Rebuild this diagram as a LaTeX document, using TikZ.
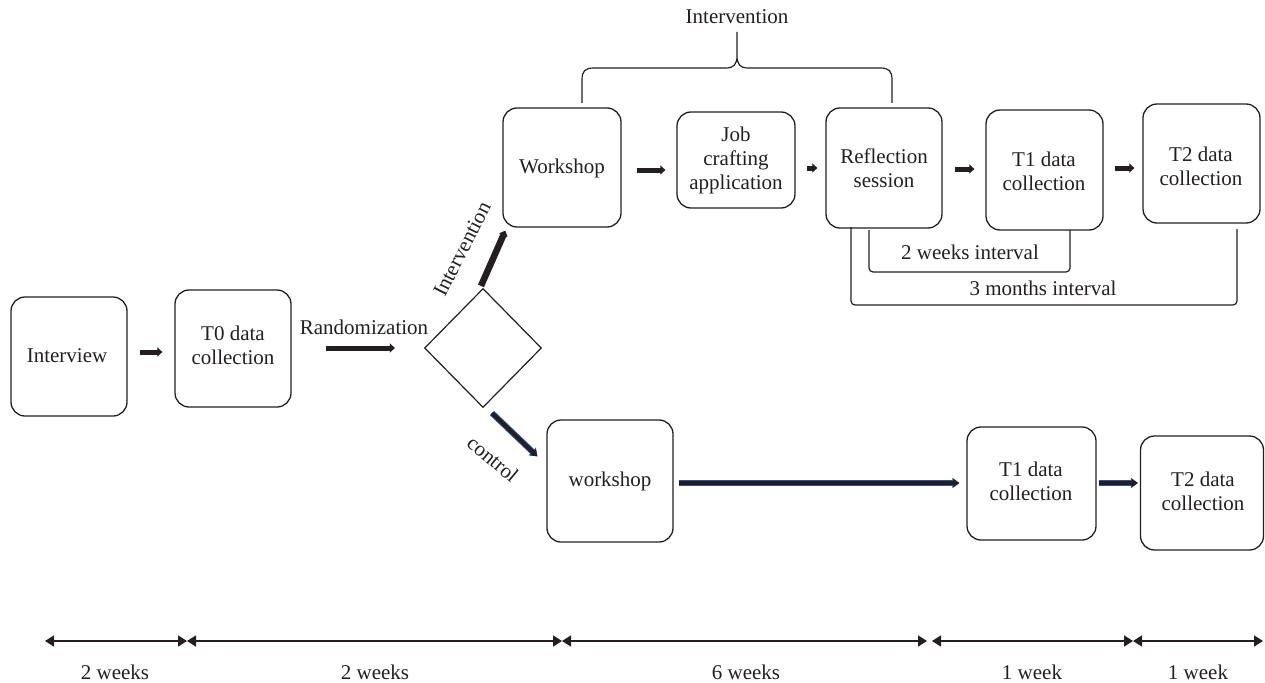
\documentclass[tikz,border=0pt]{standalone}
\usepackage{fontspec}
\setmainfont{Liberation Serif}
\usetikzlibrary{shapes.geometric,arrows.meta}
\definecolor{ink}{HTML}{231F20}
\definecolor{ctrlblue}{HTML}{2E4F9A}
\begin{document}
\begin{tikzpicture}[x=1pt,y=-1pt,
  font=\fontsize{21}{24}\selectfont,
  box/.style={draw=ink, line width=1.3pt, rounded corners=14pt, inner sep=0pt},
  txt/.style={text=ink, align=center, inner sep=0pt},
  arr/.style={draw=ink, line width=5pt, -{Triangle[length=5pt,width=9pt]}},
  bigarr/.style={draw=ink, line width=6.5pt, -{Triangle[length=5pt,width=9pt]}},
  ctrl/.style={draw=ink, line width=4pt, -{Triangle[length=6pt,width=8pt]},
    preaction={draw=ctrlblue, line width=6pt, -{Triangle[length=7pt,width=10pt]}}},
  tl/.style={draw=ink, line width=1.5pt,
    {Triangle[length=9pt,width=11pt]}-{Triangle[length=9pt,width=11pt]}},
  bracket/.style={draw=ink, line width=1.2pt, rounded corners=4pt}
]
\useasboundingbox (0,0) rectangle (1265,682);

% boxes
\node[box, minimum width=116pt, minimum height=119pt] (interview) at (69,356.5) {};
\node[box, minimum width=116pt, minimum height=117pt] (t0) at (233,348.5) {};
\node[diamond, draw=ink, line width=1.2pt, minimum width=117pt, minimum height=119pt, inner sep=0pt] (dia) at (483,348) {};
\node[box, minimum width=118pt, minimum height=119pt] (ws) at (562,167.5) {};
\node[box, minimum width=118pt, minimum height=96pt] (job) at (736,160) {};
\node[box, minimum width=116pt, minimum height=120pt] (refl) at (884,168) {};
\node[box, minimum width=117pt, minimum height=120pt] (t1u) at (1044.5,170) {};
\node[box, minimum width=117pt, minimum height=119pt] (t2u) at (1201.5,163.5) {};
\node[box, minimum width=126pt, minimum height=122pt] (wsl) at (610,481) {};
\node[box, minimum width=129pt, minimum height=113pt] (t1l) at (1031.5,483.5) {};
\node[box, minimum width=123pt, minimum height=114pt] (t2l) at (1202,493) {};

% texts in boxes
\node[txt] (interviewT) at (67,356) {Interview};
\node[txt] (t0T) at (233,345) {T0 data\\collection};
\node[txt] (wsT) at (562,168) {Workshop};
\node[txt] (jobT) at (736,160) {Job\\crafting\\application};
\node[txt] (reflT) at (884,168) {Reflection\\session};
\node[txt] (t1uT) at (1044,171) {T1 data\\collection};
\node[txt] (t2uT) at (1201,166) {T2 data\\collection};
\node[txt] (wslT) at (610,481) {workshop};
\node[txt] (t1lT) at (1031,481.5) {T1 data\\collection};
\node[txt] (t2lT) at (1203,491) {T2 data\\collection};

% other labels
\node[txt] (randT) at (364,327) {Randomization};
\node[txt, rotate=63] (intT) at (462,249) {Intervention};
\node[txt, rotate=-40] (ctrlT) at (493,459) {control};
\node[txt] (intTop) at (737,17) {Intervention};
\node[txt] (twoW) at (970,252) {2 weeks interval};
\node[txt] (threeM) at (1043,288) {3 months interval};

% arrows
\draw[arr, shorten <=12pt, shorten >=12pt] ([yshift=4.5pt]interview.east) -- ([yshift=-3.5pt]t0.west);
\draw[arr, shorten <=34pt, shorten >=29pt] ([yshift=0.5pt]t0.east) -- (dia.west);
\draw[bigarr] ([xshift=-2pt,yshift=2pt]dia.north) -- ([xshift=3pt,yshift=-3pt]ws.south west);
\draw[ctrl] ([xshift=9pt,yshift=-5pt]dia.south) -- ([xshift=-9pt,yshift=-37pt]wsl.north west);
\draw[arr, shorten <=15pt, shorten >=11pt] ([yshift=-2.5pt]ws.east) -- ([yshift=-10pt]job.west);
\draw[arr, shorten <=11pt, shorten >=8pt] ([yshift=-8pt]job.east) -- (refl.west);
\draw[arr, shorten <=12pt, shorten >=11pt] ([yshift=-1pt]refl.east) -- ([yshift=1pt]t1u.west);
\draw[arr, shorten <=11pt, shorten >=8pt] ([yshift=2pt]t1u.east) -- ([yshift=-4.5pt]t2u.west);
\draw[ctrl, shorten <=5pt, shorten >=7pt] ([yshift=-2pt]wsl.east) -- ([yshift=0.5pt]t1l.west);
\draw[ctrl, shorten <=2pt, shorten >=2pt] ([yshift=0.5pt]t1l.east) -- ([yshift=10pt]t2l.west);

% brace
\draw[draw=ink, line width=1.2pt] (582,103) -- (582,80) .. controls (582,71) and (585,68) .. (594,68)
  -- (726,68) .. controls (734,68) and (737,64) .. (737,56) -- (737,32)
  -- (737,56) .. controls (737,64) and (740,68) .. (748,68)
  -- (880,68) .. controls (889,68) and (892,71) .. (892,80) -- (892,103);

% interval brackets
\draw[bracket] (869,230) -- (869,272) -- (1070,272) -- (1070,230);
\draw[bracket] (851,227) -- (851,305) -- (1237,305) -- (1237,229);

% timeline
\coordinate (tl0) at (45,641);
\coordinate (tl1) at (187,641);
\coordinate (tl2) at (562,641);
\coordinate (tl3a) at (927,641);
\coordinate (tl3b) at (932,641);
\coordinate (tl4) at (1133,641);
\coordinate (tl5) at (1263,641);
\draw[tl] (tl0) -- (tl1);
\draw[tl] (tl1) -- (tl2);
\draw[tl] (tl2) -- (tl3a);
\draw[tl] (tl3b) -- (tl4);
\draw[tl] (tl4) -- (tl5);
\node[txt] (w1) at (115,672) {2 weeks};
\node[txt] (w2) at (375,672) {2 weeks};
\node[txt] (w3) at (746,672) {6 weeks};
\node[txt] (w4) at (1032,672) {1 week};
\node[txt] (w5) at (1198,672) {1 week};
\end{tikzpicture}
\end{document}
